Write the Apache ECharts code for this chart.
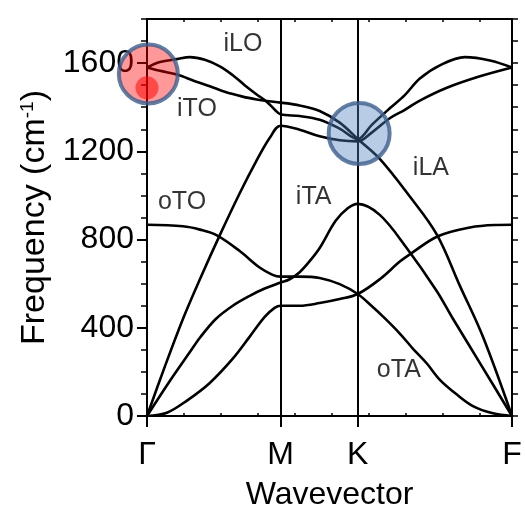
<!DOCTYPE html>
<html>
<head>
<meta charset="utf-8">
<script src="https://cdn.jsdelivr.net/npm/echarts@6/dist/echarts.min.js"></script>
<style>html,body{margin:0;padding:0;background:#fff}#c{width:525px;height:516px}</style>
</head>
<body>
<div id="c"></div>
<script>
// High-symmetry points along the path (wavevector units)
const qTicks = [0, 1, 1.5774, 2.7321];
const qLabels = ['Γ', 'M', 'K', 'F'];
const freqTicks = [0, 400, 800, 1200, 1600];

// Phonon branches: [wavevector, frequency (cm^-1)]
const branch1 = [[0,1580],[0.097,1565],[0.224,1548],[0.358,1518],[0.470,1495],[0.582,1470],[0.716,1448],[0.821,1435],[0.896,1428],[1,1421],
  [1.1425,1408],[1.2925,1383],[1.4424,1330],[1.5774,1256],
  [1.7424,1166],[1.9673,995],[2.1698,822],[2.3422,590],[2.5147,359],[2.7321,0]];
const branch2 = [[0,1580],[0.097,1605],[0.224,1618],[0.321,1627],[0.433,1615],[0.545,1585],[0.642,1545],[0.731,1500],[0.821,1458],[0.896,1425],[0.955,1390],[1,1368],
  [1.1425,1360],[1.2925,1343],[1.4424,1303],[1.5774,1256],
  [1.6824,1320],[1.8173,1395],[1.9298,1455],[2.0423,1530],[2.1923,1590],[2.3797,1627],[2.5672,1612],[2.7321,1580]];
const branch3 = [[0,0],[0.134,225],[0.269,440],[0.396,620],[0.545,820],[0.694,1010],[0.813,1150],[0.918,1260],[1,1316],
  [1.1425,1298],[1.2925,1268],[1.4424,1250],[1.5774,1245],
  [1.6824,1285],[1.8173,1350],[1.9298,1388],[2.0423,1430],[2.2448,1488],[2.4922,1540],[2.7321,1580]];
const branch4 = [[0,0],[0.172,160],[0.321,290],[0.396,355],[0.515,440],[0.642,500],[0.769,545],[0.881,578],[1,605],
  [1.0675,620],[1.1425,652],[1.2175,702],[1.2925,762],[1.412,885],[1.5024,942],[1.5774,962],
  [1.7424,912],[1.9425,763],[2.1672,568],[2.2822,449],[2.4922,240],[2.7321,0]];
const branch5 = [[0,867],[0.269,860],[0.396,845],[0.520,820],[0.694,748],[0.843,673],[0.940,640],[1,632],
  [1.1425,632],[1.2925,626],[1.4424,598],[1.5774,553],
  [1.6899,494],[1.7648,452],[1.8923,374],[1.9898,306],[2.0948,238],[2.1923,164],[2.3197,97],[2.4397,45],[2.5897,12],[2.7321,0]];
const branch6 = [[0,0],[0.149,15],[0.299,70],[0.470,150],[0.642,260],[0.769,360],[0.881,449],[0.955,490],[1,500],
  [1.1425,500],[1.2925,512],[1.4424,530],[1.5774,553],
  [1.7424,620],[1.8923,700],[1.9673,733],[2.1773,815],[2.4172,855],[2.6047,866],[2.7321,867]];

// Branch name annotations [wavevector, frequency]
const annotationNames = ['iLO', 'iTO', 'oTO', 'iTA', 'iLA', 'oTA'];
const annotationPos = [[0.7186,1688],[0.374,1391],[0.262,969],[1.2475,992],[2.125,1122],[1.885,206]];

// Highlight circles
const redCircle = [0.01, 1551];
const redDot = [0, 1488];
const blueCircle = [1.588, 1281];

const FONT = "'Liberation Sans', Arial, sans-serif";
const branches = [branch1, branch2, branch3, branch4, branch5, branch6];

const chart = echarts.init(document.getElementById('c'), null, {renderer: 'canvas'});
const axisLineStyle = {color: '#000', width: 2};
const xMax = qTicks[qTicks.length - 1];

const series = branches.map((b, i) => ({
  type: 'line', data: b, xAxisIndex: 0, yAxisIndex: 0,
  showSymbol: false, smooth: 0.35, silent: true, z: 3,
  lineStyle: {color: '#000', width: 2.6},
  markLine: i === 0 ? {
    silent: true, symbol: 'none', label: {show: false},
    lineStyle: {color: '#000', width: 2, type: 'solid'},
    data: [{xAxis: qTicks[1]}, {xAxis: qTicks[2]}]
  } : undefined
}));

series.push({
  type: 'scatter', silent: true, symbolSize: 0, z: 4,
  data: annotationPos.map((p, i) => ({value: p, name: annotationNames[i]})),
  label: {show: true, position: 'inside', formatter: p => p.name,
    color: '#000', fontSize: 25, fontFamily: FONT, textBorderWidth: 0}
});
series.push({
  type: 'scatter', silent: true, z: 6, symbol: 'circle',
  data: [
    {value: redCircle, symbolSize: 59, itemStyle: {color: 'rgba(255,0,0,0.5)', borderColor: '#3c5e8c', borderWidth: 4}},
    {value: blueCircle, symbolSize: 61, itemStyle: {color: 'rgba(80,128,190,0.5)', borderColor: '#3c5e8c', borderWidth: 4}}
  ]
});
series.push({
  type: 'scatter', silent: true, z: 7, symbol: 'circle', symbolSize: 23,
  data: [redDot], itemStyle: {color: 'rgba(255,0,0,0.65)'}
});

chart.setOption({
  animation: false,
  backgroundColor: '#fff',
  grid: {left: 147, right: 13, top: 19, bottom: 96, containLabel: false},
  xAxis: [
    {type: 'value', position: 'bottom', min: 0, max: xMax,
      axisLine: {show: true, onZero: false, lineStyle: axisLineStyle},
      axisTick: {show: true, customValues: qTicks, length: 11, lineStyle: {color: '#000', width: 2}},
      axisLabel: {show: true, customValues: qTicks, margin: 23, color: '#000', fontSize: 32, fontFamily: FONT,
        formatter: v => { const i = qTicks.findIndex(t => Math.abs(t - v) < 1e-6); return i >= 0 ? qLabels[i] : ''; }},
      splitLine: {show: false},
      name: 'Wavevector', nameLocation: 'middle', nameGap: 63,
      nameTextStyle: {color: '#000', fontSize: 32, fontFamily: FONT}},
    {type: 'value', position: 'top', min: 0, max: xMax, interval: 0.277,
      axisLine: {show: true, onZero: false, lineStyle: axisLineStyle},
      axisTick: {show: true, inside: true, length: 3, lineStyle: {color: '#000', width: 1.5}},
      axisLabel: {show: false}, splitLine: {show: false}},
    {type: 'value', position: 'bottom', min: 0, max: xMax, interval: 0.277,
      axisLine: {show: false, onZero: false},
      axisTick: {show: true, inside: true, length: 3, lineStyle: {color: '#000', width: 1.5}},
      axisLabel: {show: false}, splitLine: {show: false}}
  ],
  yAxis: [
    {type: 'value', position: 'left', min: 0, max: 1800, interval: 100,
      axisLine: {show: true, onZero: false, lineStyle: axisLineStyle},
      axisTick: {show: true, length: 6, lineStyle: {color: '#000', width: 1.5}},
      axisLabel: {show: true, margin: 13, color: '#000', fontSize: 32, fontFamily: FONT,
        formatter: v => freqTicks.indexOf(v) >= 0 ? String(v) : ''},
      splitLine: {show: false},
      name: '{t|Frequency (cm}{s|-1}{t|)}', nameLocation: 'middle', nameGap: 95, nameRotate: 90,
      nameTextStyle: {color: '#000', fontFamily: FONT,
        rich: {t: {fontSize: 34, fontFamily: FONT, color: '#000'},
               s: {fontSize: 19, fontFamily: FONT, color: '#000', verticalAlign: 'top', padding: [0,0,14,0]}}}},
    {type: 'value', position: 'right', min: 0, max: 1800, interval: 100,
      axisLine: {show: true, onZero: false, lineStyle: axisLineStyle},
      axisTick: {show: true, length: 6, lineStyle: {color: '#000', width: 1.5}},
      axisLabel: {show: false}, splitLine: {show: false}},
    {type: 'value', position: 'left', min: 0, max: 1800, interval: 400,
      axisLine: {show: false, onZero: false},
      axisTick: {show: true, customValues: freqTicks, length: 10, lineStyle: {color: '#000', width: 2}},
      axisLabel: {show: false}, splitLine: {show: false}}
  ],
  series: series
});
</script>
</body>
</html>
